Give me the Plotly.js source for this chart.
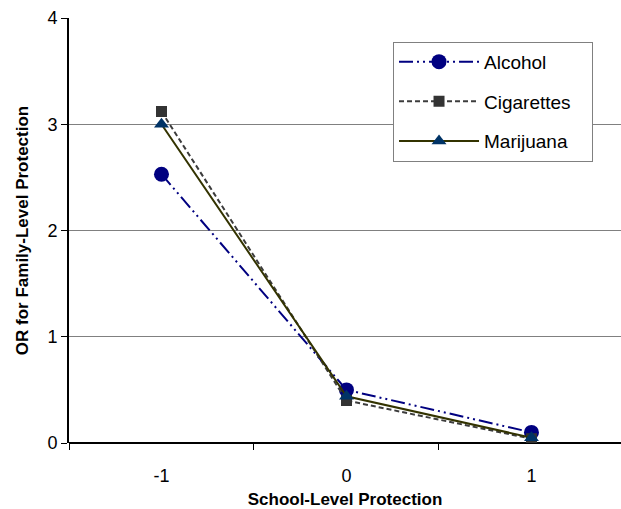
<!DOCTYPE html>
<html>
<head>
<meta charset="utf-8">
<script src="https://cdn.plot.ly/plotly-3.0.1.min.js"></script>
<style>html,body{margin:0;padding:0;background:#fff;}#chart{width:621px;height:509px;}</style>
</head>
<body>
<div id="chart"></div>
<script>
const categories = [-1, 0, 1];
const categoryLabels = ['-1', '0', '1'];
const alcohol = [2.53, 0.50, 0.10];
const cigarettes = [3.12, 0.40, 0.04];
const marijuana = [3.00, 0.44, 0.05];
const categoryBoundaries = [-1.5, -0.5, 0.5, 1.5];
const yTicks = [0, 1, 2, 3, 4];
const seriesNames = ['Alcohol', 'Cigarettes', 'Marijuana'];

const font = 'Liberation Sans, Arial, sans-serif';
const pad = '\u00a0\u00a0\u00a0';

const traces = [
  {x: categories, y: alcohol, name: seriesNames[0] + pad, type: 'scatter', mode: 'lines+markers',
   legendgroup: 'a',
   line: {color: '#000080', width: 2, dash: '14px,4px,2px,4px,2px,4px'},
   marker: {symbol: 'circle', size: 15, color: '#000080'}},
  {x: categories, y: cigarettes, name: seriesNames[1] + pad, type: 'scatter', mode: 'lines+markers',
   legendgroup: 'b',
   line: {color: '#3c3c3c', width: 2, dash: '5px,3px'},
   marker: {symbol: 'square', size: 11, color: '#333333'}},
  {x: categories, y: marijuana, name: seriesNames[2] + pad, type: 'scatter', mode: 'lines+markers',
   legendgroup: 'c',
   line: {color: '#333300', width: 2},
   marker: {symbol: 'triangle-up', size: 13, color: '#003366'}},
  {x: categories, y: alcohol, xaxis: 'x2', type: 'scatter', mode: 'none', showlegend: false, hoverinfo: 'skip'}
];

const xRange = [-1.5, 1.484];

const layout = {
  width: 621, height: 509,
  margin: {l: 69, r: 0, t: 18, b: 66},
  paper_bgcolor: '#fff', plot_bgcolor: '#fff',
  font: {family: font, color: '#000', size: 18},
  showlegend: true,
  legend: {
    x: 0.587, y: 0.944, xanchor: 'left', yanchor: 'top',
    bgcolor: '#fff', bordercolor: '#808080', borderwidth: 1,
    font: {family: font, size: 19, color: '#000'},
    tracegroupgap: 12, itemwidth: 80
  },
  xaxis: {
    range: xRange, tickvals: categoryBoundaries, ticktext: ['', '', '', ''],
    ticks: 'outside', ticklen: 6, tickcolor: '#000', tickwidth: 1,
    showgrid: false, zeroline: false, showline: false, automargin: false,
    title: {text: 'School-Level Protection', font: {family: font, size: 17, color: '#000', weight: 'bold'}, standoff: 40}
  },
  xaxis2: {
    range: xRange, overlaying: 'x', side: 'bottom',
    tickvals: categories, ticktext: categoryLabels, ticks: '', ticklabelstandoff: 20,
    showgrid: false, zeroline: false, showline: false,
    tickfont: {family: font, size: 18, color: '#000'}
  },
  yaxis: {
    range: [0, 4], tickvals: yTicks, ticks: 'outside', ticklen: 6, tickcolor: '#000',
    showgrid: true, gridcolor: '#808080', gridwidth: 1,
    zeroline: true, zerolinecolor: '#000', zerolinewidth: 2,
    showline: true, linecolor: '#000', linewidth: 2, automargin: false,
    tickfont: {family: font, size: 18, color: '#000'},
    title: {text: 'OR for Family-Level Protection', font: {family: font, size: 17, color: '#000', weight: 'bold'}, standoff: 14}
  }
};

Plotly.newPlot('chart', traces, layout, {displayModeBar: false, staticPlot: true});
</script>
</body>
</html>
